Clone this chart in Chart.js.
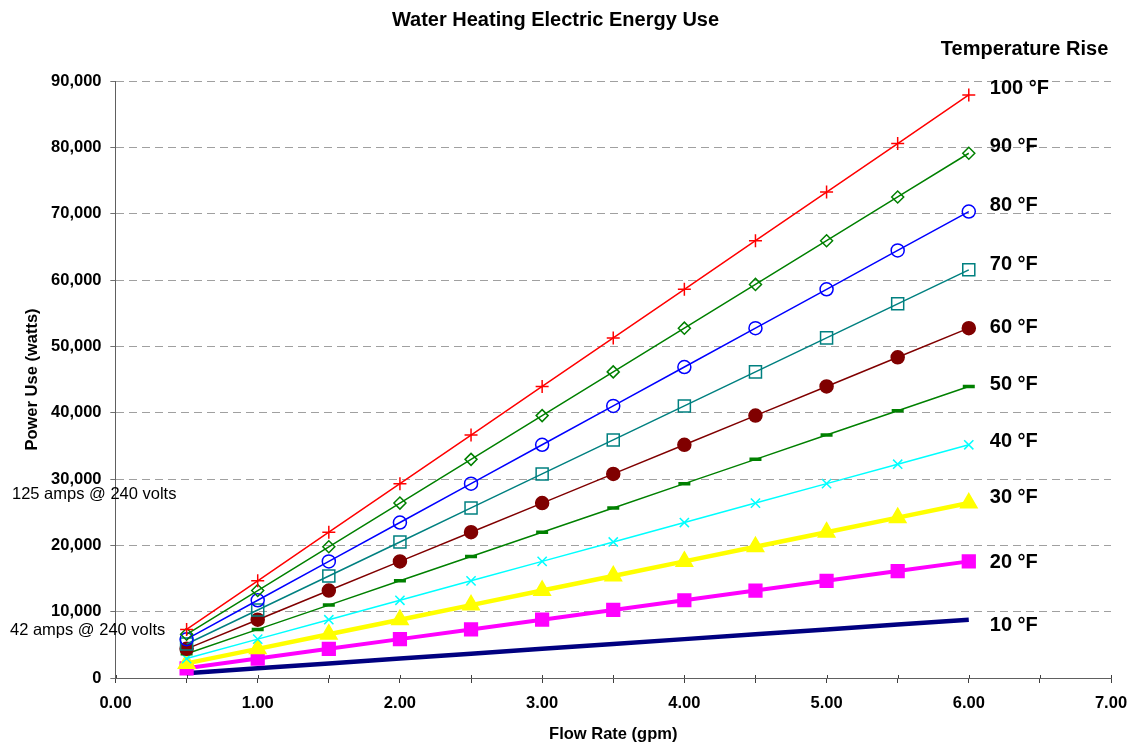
<!DOCTYPE html>
<html>
<head>
<meta charset="utf-8">
<title>Water Heating Electric Energy Use</title>
<script src="https://cdn.jsdelivr.net/npm/chart.js@4"></script>
<style>
  html, body { margin: 0; padding: 0; background: #fff; }
  #wrap { width: 1133px; height: 744px; }
</style>
</head>
<body>
<div id="wrap"><canvas id="energyChart" width="1133" height="744"></canvas></div>
<script>
// Flow rate (gpm)
const flowRates = [0.5, 1, 1.5, 2, 2.5, 3, 3.5, 4, 4.5, 5, 5.5, 6];

// Power use (watts) per temperature rise
const rise10 = [733, 1465, 2198, 2930, 3663, 4395, 5128, 5860, 6593, 7325, 8058, 8790];
const rise20 = [1465, 2930, 4395, 5860, 7325, 8790, 10255, 11720, 13185, 14650, 16115, 17580];
const rise30 = [2198, 4395, 6593, 8790, 10988, 13185, 15383, 17580, 19778, 21975, 24173, 26370];
const rise40 = [2930, 5860, 8790, 11720, 14650, 17580, 20510, 23440, 26370, 29300, 32230, 35160];
const rise50 = [3663, 7325, 10988, 14650, 18313, 21975, 25638, 29300, 32963, 36625, 40288, 43950];
const rise60 = [4395, 8790, 13185, 17580, 21975, 26370, 30765, 35160, 39555, 43950, 48345, 52740];
const rise70 = [5128, 10255, 15383, 20510, 25638, 30765, 35893, 41020, 46148, 51275, 56403, 61530];
const rise80 = [5860, 11720, 17580, 23440, 29300, 35160, 41020, 46880, 52740, 58600, 64460, 70320];
const rise90 = [6593, 13185, 19778, 26370, 32963, 39555, 46148, 52740, 59333, 65925, 72518, 79110];
const rise100 = [7325, 14650, 21975, 29300, 36625, 43950, 51275, 58600, 65925, 73250, 80575, 87900];

// Series names and where their labels sit on the right
const seriesNames = ["10 °F", "20 °F", "30 °F", "40 °F", "50 °F", "60 °F", "70 °F", "80 °F", "90 °F", "100 °F"];
const labelValues = [7990, 17480, 27280, 35710, 44300, 52890, 62390, 71280, 80170, 88900];

// Reference lines text
const notes = ["125 amps @ 240 volts", "42 amps @ 240 volts"];
const noteValues = [27730, 7230];

const FONT = "'Liberation Sans', Arial, Helvetica, sans-serif";

const seriesData = [rise10, rise20, rise30, rise40, rise50, rise60, rise70, rise80, rise90, rise100];
const styles = [
    { color: '#000080', width: 4.5, point: false, radius: 0, fill: true },
    { color: '#ff00ff', width: 4, point: 'rect', radius: 9, fill: true },
    { color: '#ffff00', width: 4.5, point: 'triangle', radius: 9.5, fill: true },
    { color: '#00ffff', width: 1.5, point: 'crossRot', radius: 6.5, fill: false },
    { color: '#008000', width: 1.5, point: 'line', radius: 6, fill: false, pbw: 3.5 },
    { color: '#800000', width: 1.5, point: 'circle', radius: 6.5, fill: true },
    { color: '#008080', width: 1.5, point: 'rect', radius: 8.5, fill: false },
    { color: '#0000ff', width: 1.5, point: 'circle', radius: 6.5, fill: false },
    { color: '#008000', width: 1.5, point: 'rectRot', radius: 6, fill: false },
    { color: '#ff0000', width: 1.5, point: 'cross', radius: 6.5, fill: false }
];

const datasets = seriesData.map((vals, i) => {
    const s = styles[i];
    return {
        label: seriesNames[i],
        data: flowRates.map((x, j) => ({ x: x, y: vals[j] })),
        borderColor: s.color,
        borderWidth: s.width,
        showLine: true,
        pointStyle: s.point,
        pointRadius: s.radius,
        pointHoverRadius: s.radius,
        pointBackgroundColor: s.fill ? s.color : 'rgba(0,0,0,0)',
        pointBorderColor: s.color,
        pointBorderWidth: s.pbw || 1.5,
        order: 10 - i
    };
});

// Draws the series labels, legend heading and reference notes
const labelsPlugin = {
    id: 'sideLabels',
    afterDraw(chart) {
        const ctx = chart.ctx;
        const xs = chart.scales.x, ys = chart.scales.y;
        const xEnd = xs.getPixelForValue(flowRates[flowRates.length - 1]);
        ctx.save();
        // small tick marks above the x axis
        ctx.strokeStyle = '#404040';
        ctx.lineWidth = 1;
        xs.ticks.forEach(t => {
            const px = Math.round(xs.getPixelForValue(t.value)) + 0.5;
            ctx.beginPath();
            ctx.moveTo(px, ys.bottom);
            ctx.lineTo(px, ys.bottom - 3);
            ctx.stroke();
        });
        ctx.fillStyle = '#000';
        ctx.textBaseline = 'middle';
        ctx.textAlign = 'left';
        ctx.font = 'bold 20px ' + FONT;
        seriesNames.forEach((name, i) => {
            ctx.fillText(name, xEnd + 21, ys.getPixelForValue(labelValues[i]));
        });
        ctx.fillText('Temperature Rise', xEnd - 28, 49);
        ctx.font = '16.5px ' + FONT;
        ctx.fillText(notes[0], 12, ys.getPixelForValue(noteValues[0]));
        ctx.fillText(notes[1], 10, ys.getPixelForValue(noteValues[1]));
        ctx.restore();
    }
};

const ctx = document.getElementById('energyChart').getContext('2d');
const energyChart = new Chart(ctx, {
    type: 'scatter',
    data: { datasets: datasets },
    options: {
        responsive: false,
        animation: false,
        layout: { padding: { left: 0, right: 22, top: 0, bottom: 0 } },
        plugins: {
            legend: { display: false },
            tooltip: { enabled: false },
            title: {
                display: true,
                text: 'Water Heating Electric Energy Use',
                font: { family: FONT, size: 20, weight: 'bold' },
                color: '#000',
                padding: { top: 8, bottom: 49 }
            }
        },
        scales: {
            x: {
                type: 'linear',
                min: 0,
                max: 7,
                afterFit: (scale) => {
                    scale.height = 66;
                    scale.paddingLeft = 0;
                    scale.paddingRight = 0;
                },
                border: { color: '#606060', width: 1 },
                grid: {
                    drawOnChartArea: false,
                    drawTicks: true,
                    tickLength: 5,
                    tickColor: '#404040'
                },
                ticks: {
                    stepSize: 0.5,
                    autoSkip: false,
                    maxRotation: 0,
                    padding: 11,
                    color: '#000',
                    font: { family: FONT, size: 16.5, weight: 'bold' },
                    callback: (v) => Number.isInteger(v) ? v.toFixed(2) : ''
                },
                title: {
                    display: true,
                    text: 'Flow Rate (gpm)',
                    color: '#000',
                    font: { family: FONT, size: 16.5, weight: 'bold' },
                    padding: { top: 0, bottom: 0 }
                }
            },
            y: {
                min: 0,
                max: 90000,
                afterFit: (scale) => { scale.width = 115.5; },
                border: { color: '#606060', width: 1, dash: [8, 5] },
                grid: {
                    color: '#a0a0a0',
                    lineWidth: 1,
                    tickLength: 5,
                    tickColor: '#404040',
                    tickBorderDash: [1, 0],
                    drawTicks: true
                },
                ticks: {
                    stepSize: 10000,
                    padding: 9,
                    color: '#000',
                    font: { family: FONT, size: 16.5, weight: 'bold' },
                    callback: (v) => v.toLocaleString('en-US')
                },
                title: {
                    display: true,
                    text: 'Power Use (watts)',
                    color: '#000',
                    font: { family: FONT, size: 16.5, weight: 'bold' },
                    padding: { top: 23, bottom: 0 }
                }
            }
        }
    },
    plugins: [labelsPlugin]
});
</script>
</body>
</html>
